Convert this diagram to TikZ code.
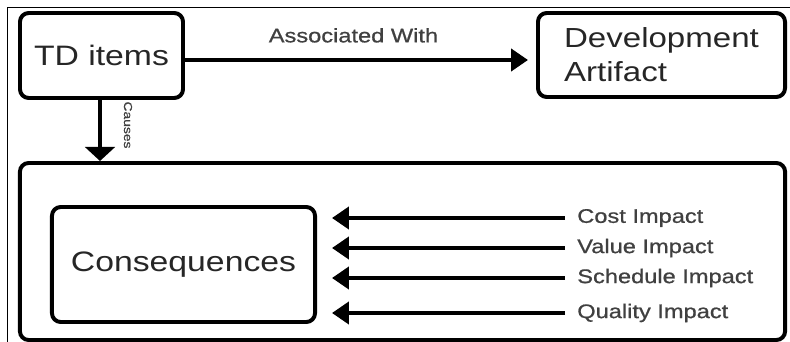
\documentclass[tikz,border=0pt]{standalone}
\usepackage{fontspec}
\setmainfont[FakeStretch=1.2]{Liberation Sans}
\newfontfamily\lblfont[FakeStretch=1.2,FakeBold=0.8]{Liberation Sans}
\usepackage{tikz}
\usetikzlibrary{arrows.meta,positioning,calc}

\begin{document}
\begin{tikzpicture}
[x=0.025cm,y=-0.025cm,
	box/.style={draw,line width=2.8pt,rounded corners=0.22cm,text=black!85,inner sep=0pt},
	arr/.style={line width=2.8pt,-{Triangle[width=15.6pt,length=12pt]}},
	lbl/.style={text=black!75,font=\lblfont\fontsize{14}{16}\selectfont,inner sep=0pt}]
\useasboundingbox (0,0) rectangle (790,342);
\draw[line width=0.6pt] (7,342) |- (790,7);
% top row
\node[box,minimum width=4.075cm,minimum height=2.125cm,
	font=\fontsize{20}{24}\selectfont] (td) at (101.5,55.5) {TD items};
\node[box,minimum width=6.175cm,minimum height=2.1cm,align=left,
	font=\fontsize{19.6}{24}\selectfont] (dev) at (661.5,55) {Development\\Artifact};
% bottom part
\node[box,minimum width=19.125cm,minimum height=4.425cm] (big) at (402.5,251.5) {};
\node[box,minimum width=6.575cm,minimum height=2.875cm,
	font=\fontsize{20}{24}\selectfont] (cons) at (183.5,264.5) {Consequences};
\draw[arr,shorten >=0.2cm] (td.east |- 0,60) -- node[lbl,above=11pt,pos=0.48] (assoc) {Associated With} (dev.west |- 0,60);
\draw[line width=2.8pt,-{Triangle[width=21pt,length=10pt]}] (td.south -| 100,0) -- (big.north -| 100,0);
\node[lbl,rotate=-90,font=\lblfont\fontsize{8.2}{9}\selectfont] (causes) at (128,125) {Causes};
\foreach \name/\ypos/\txt in {cost/217/Cost Impact,value/247/Value Impact,
	sched/277/Schedule Impact,qual/312/Quality Impact}
{
	\node[lbl,anchor=west] (\name) at (577,\ypos+1) {\txt};
	\draw[arr,shorten <=0.3cm,shorten >=0.375cm] (\name.west) -- (cons.east |- \name.west);
}
\end{tikzpicture}
\end{document}
